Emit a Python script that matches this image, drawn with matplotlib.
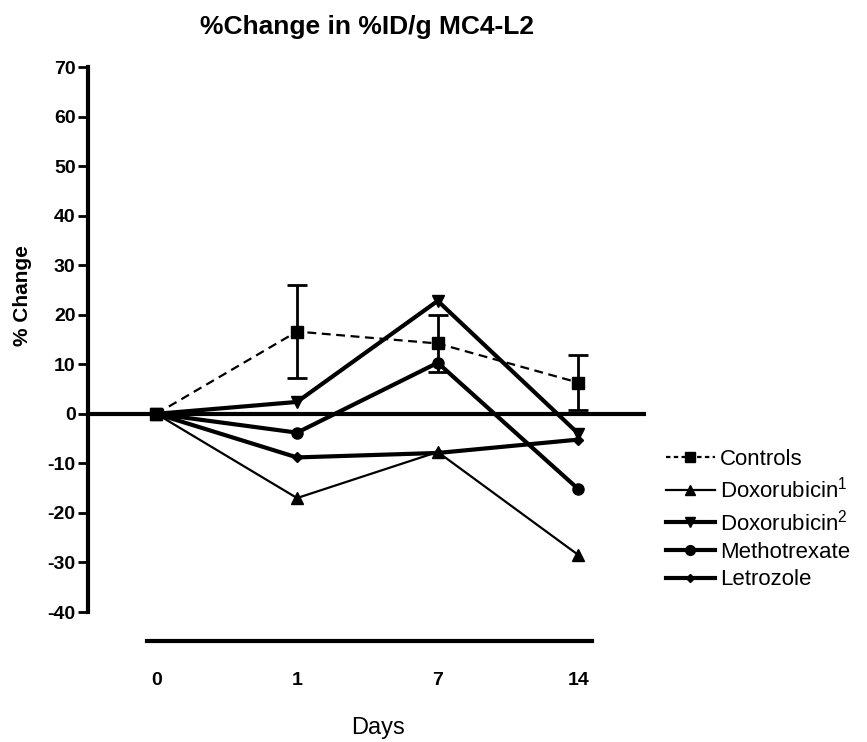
import numpy as np
import matplotlib.pyplot as plt
from matplotlib.lines import Line2D

plt.rcParams['font.family'] = ['Liberation Sans', 'DejaVu Sans']
plt.rcParams['mathtext.default'] = 'regular'
plt.rcParams['axes.unicode_minus'] = False

# data
days = ['0', '1', '7', '14']
controls = [0, 16.6, 14.2, 6.3]
controls_err = [0, 9.3, 5.7, 5.6]
doxo1 = [0, -17.0, -7.7, -28.5]
doxo2 = [0, 2.4, 22.8, -4.0]
methotrexate = [0, -3.8, 10.3, -15.2]
letrozole = [0, -8.8, -7.9, -5.2]

x = np.arange(len(days))

fig = plt.figure(figsize=(8.67, 7.42), dpi=100)
ax = fig.add_axes([0.1015, 0.1752, 0.6435, 0.7345])

ax.axhline(0, color='black', lw=3, zorder=1)

ax.errorbar(x, controls, yerr=controls_err, fmt='none', ecolor='black',
            capsize=7, capthick=2, elinewidth=2, zorder=3)
ax.plot(x, controls, color='black', ls=(0, (4, 2.5)), lw=1.6, marker='s', ms=8, zorder=3)
ax.plot(x, doxo1, color='black', lw=1.6, marker='^', ms=8, zorder=3)
ax.plot(x, doxo2, color='black', lw=3, marker='v', ms=8, zorder=3)
ax.plot(x, methotrexate, color='black', lw=3, marker='o', ms=8, zorder=3)
ax.plot(x, letrozole, color='black', lw=3, marker='D', ms=5, zorder=3)

ax.set_xlim(-0.486, 3.48)
ax.set_ylim(-40, 70)
ax.set_yticks(np.arange(-40, 71, 10))
ax.set_xticks(x)
ax.set_xticklabels(days)

for s in ['top', 'right']:
    ax.spines[s].set_visible(False)
ax.spines['left'].set_linewidth(3)
ax.spines['bottom'].set_linewidth(3)
ax.spines['bottom'].set_position(('outward', 21))
ax.spines['bottom'].set_bounds(-0.07, 3.1)

ax.tick_params(axis='y', length=7, width=2, labelsize=14, pad=2)
ax.tick_params(axis='x', length=0, labelsize=14, pad=22)
for lab in ax.get_yticklabels() + ax.get_xticklabels():
    lab.set_fontweight('bold')

ax.set_ylabel('% Change', fontsize=15, fontweight='bold')
ax.yaxis.set_label_coords(-0.1, 0.58)
ax.set_xlabel('Days', fontsize=17)
ax.xaxis.set_label_coords(0.52, -0.192)
ax.set_title('%Change in %ID/g MC4-L2', fontsize=19, fontweight='bold', pad=24)

handles = [
    Line2D([], [], color='black', ls=(0, (2, 1.5)), lw=1.6, marker='s', ms=7),
    Line2D([], [], color='black', lw=1.6, marker='^', ms=7),
    Line2D([], [], color='black', lw=3, marker='v', ms=7),
    Line2D([], [], color='black', lw=3, marker='o', ms=7),
    Line2D([], [], color='black', lw=3, marker='D', ms=4.5),
]
labels = ['Controls', 'Doxorubicin$^1$', 'Doxorubicin$^2$', 'Methotrexate', 'Letrozole']
fig.legend(handles, labels, loc='upper left', bbox_to_anchor=(0.768, 0.395), frameon=False,
           fontsize=16, handlelength=2.2, handletextpad=0.25, labelspacing=0.3,
           borderpad=0, borderaxespad=0)

fig.savefig('out.png', dpi=100)
